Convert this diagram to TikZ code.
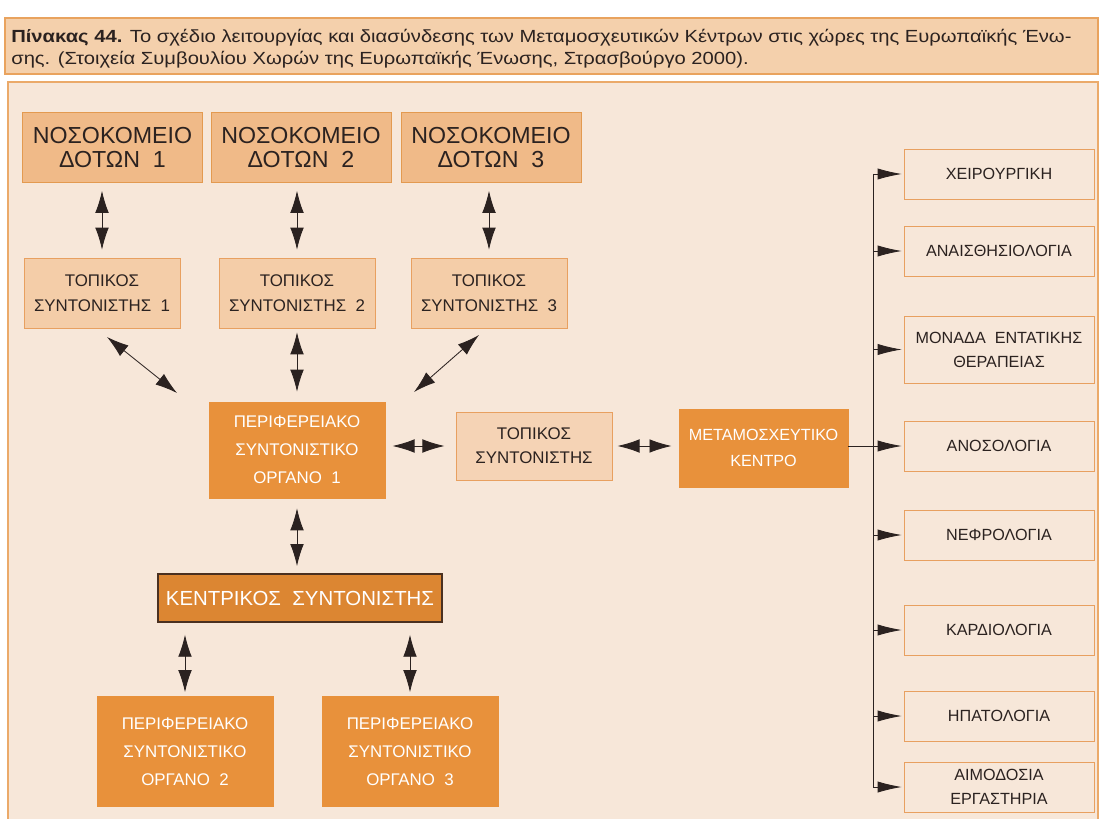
\documentclass[tikz,border=0pt]{standalone}
\usepackage{fontspec}
\setmainfont{Liberation Sans}
\newfontfamily\capfont[FakeStretch=1.15]{Liberation Sans}
\usetikzlibrary{arrows.meta,positioning,calc}
\definecolor{ink}{HTML}{2B2220}
\definecolor{capfill}{HTML}{F4D0AC}
\definecolor{capdraw}{HTML}{E9A35E}
\definecolor{panelfill}{HTML}{F7E7D9}
\definecolor{paneldraw}{HTML}{EBAA6A}
\definecolor{hospfill}{HTML}{F0BA88}
\definecolor{hospdraw}{HTML}{E39A50}
\definecolor{locfill}{HTML}{F4CDA8}
\definecolor{locdraw}{HTML}{E8A060}
\definecolor{tsfill}{HTML}{F5D3B5}
\definecolor{darkfill}{HTML}{E8913B}
\definecolor{ksfill}{HTML}{DC8632}
\definecolor{ksdraw}{HTML}{4A3020}
\tikzset{
  hosp/.style={draw=hospdraw, fill=hospfill, text=ink, inner sep=0pt, align=center,
    minimum width=4.5cm, minimum height=1.75cm, font=\fontsize{16.5}{17}\selectfont},
  loc/.style={draw=locdraw, fill=locfill, text=ink, inner sep=0pt, align=center,
    minimum width=3.9cm, minimum height=1.75cm, font=\fontsize{12}{18}\selectfont},
  organ/.style={draw=darkfill, fill=darkfill, text=white, inner sep=0pt, align=center,
    minimum width=4.4cm, minimum height=2.4cm, font=\fontsize{12}{20}\selectfont},
  dept/.style={draw=locdraw, fill=panelfill, text=ink, inner sep=0pt, align=center,
    minimum width=4.75cm, minimum height=1.25cm, font=\fontsize{11.5}{17}\selectfont},
  dbl/.style={{Latex[length=5.5mm,width=3.4mm]}-{Latex[length=5.5mm,width=3.4mm]}, line width=0.6pt, ink},
  feed/.style={-{Latex[length=6mm,width=2.8mm]}, line width=0.6pt, ink},
}
\begin{document}
\begin{tikzpicture}[x=0.025cm, y=-0.025cm]
  \useasboundingbox[fill=white] (0,0) rectangle (1103,819);
  % caption
  \draw[capdraw, fill=capfill, line width=1pt] (5,18) rectangle (1098,74);
  \node[anchor=base west, inner sep=0pt, align=left, text=ink,
    font=\capfont\fontsize{12.5}{15.6}\selectfont] (cap) at (11,64.5)
    {\textbf{Πίνακας 44.} Το σχέδιο λειτουργίας και διασύνδεσης των Μεταμοσχευτικών Κέντρων στις χώρες της Ευρωπαϊκής Ένω-\\
     σης. (Στοιχεία Συμβουλίου Χωρών της Ευρωπαϊκής Ένωσης, Στρασβούργο 2000).};
  % panel
  \draw[paneldraw, fill=panelfill, line width=1pt] (8,82) rectangle (1098,830);

  % hospitals and local coordinators
  \node[hosp] (h1) at (112.5,147.5) {ΝΟΣΟΚΟΜΕΙΟ\\ΔΟΤΩΝ\ \ 1};
  \node[hosp] (h2) at (301,147.5) {ΝΟΣΟΚΟΜΕΙΟ\\ΔΟΤΩΝ\ \ 2};
  \node[hosp] (h3) at (491,147.5) {ΝΟΣΟΚΟΜΕΙΟ\\ΔΟΤΩΝ\ \ 3};
  \node[loc] (l1) at (102,293) {ΤΟΠΙΚΟΣ\\ΣΥΝΤΟΝΙΣΤΗΣ\ \ 1};
  \node[loc] (l2) at (297,293) {ΤΟΠΙΚΟΣ\\ΣΥΝΤΟΝΙΣΤΗΣ\ \ 2};
  \node[loc] (l3) at (489,293) {ΤΟΠΙΚΟΣ\\ΣΥΝΤΟΝΙΣΤΗΣ\ \ 3};

  % regional organs
  \node[organ] (o1) at (297,450) {ΠΕΡΙΦΕΡΕΙΑΚΟ\\ΣΥΝΤΟΝΙΣΤΙΚΟ\\ΟΡΓΑΝΟ\ \ 1};
  \node[organ, minimum height=2.75cm] (o2) at (185,751.5) {ΠΕΡΙΦΕΡΕΙΑΚΟ\\ΣΥΝΤΟΝΙΣΤΙΚΟ\\ΟΡΓΑΝΟ\ \ 2};
  \node[organ, minimum height=2.75cm] (o3) at (410,751.5) {ΠΕΡΙΦΕΡΕΙΑΚΟ\\ΣΥΝΤΟΝΙΣΤΙΚΟ\\ΟΡΓΑΝΟ\ \ 3};
  \node[draw=ksdraw, fill=ksfill, text=white, line width=1pt, inner sep=0pt,
    minimum width=7.1cm, minimum height=1.2cm, font=\fontsize{14.5}{16}\selectfont]
    (ks) at (300,598) {ΚΕΝΤΡΙΚΟΣ\ \ ΣΥΝΤΟΝΙΣΤΗΣ};
  \node[loc, fill=tsfill, minimum height=1.7cm, font=\fontsize{12}{17}\selectfont]
    (ts) at (534,446) {ΤΟΠΙΚΟΣ\\ΣΥΝΤΟΝΙΣΤΗΣ};
  \node[organ, minimum width=4.225cm, minimum height=1.95cm, font=\fontsize{11.5}{19}\selectfont]
    (mk) at (763.5,448) {ΜΕΤΑΜΟΣΧΕΥΤΙΚΟ\\ΚΕΝΤΡΟ};

  % departments
  \node[dept] (d1) at (999,174) {ΧΕΙΡΟΥΡΓΙΚΗ};
  \node[dept] (d2) at (999,251) {ΑΝΑΙΣΘΗΣΙΟΛΟΓΙΑ};
  \node[dept, minimum height=1.675cm] (d3) at (999,349.5) {ΜΟΝΑΔΑ\ \ ΕΝΤΑΤΙΚΗΣ\\ΘΕΡΑΠΕΙΑΣ};
  \node[dept] (d4) at (999,446) {ΑΝΟΣΟΛΟΓΙΑ};
  \node[dept] (d5) at (999,535) {ΝΕΦΡΟΛΟΓΙΑ};
  \node[dept] (d6) at (999,630) {ΚΑΡΔΙΟΛΟΓΙΑ};
  \node[dept] (d7) at (999,716) {ΗΠΑΤΟΛΟΓΙΑ};
  \node[dept] (d8) at (999,787) {ΑΙΜΟΔΟΣΙΑ\\ΕΡΓΑΣΤΗΡΙΑ};

  % vertical links hospital - coordinator
  \foreach \i in {1,2,3}
    \draw[dbl, shorten <=0.2cm, shorten >=0.2cm] (h\i.south -| l\i.north) -- (l\i.north);

  % coordinators to regional organ 1
  \coordinate (a1) at (107,337);
  \coordinate (b1) at (177,393);
  \coordinate (a3) at (479,335);
  \coordinate (b3) at (414,392);
  \draw[dbl] (a1) -- (b1);
  \draw[dbl] (a3) -- (b3);
  \draw[dbl, shorten <=0.1cm, shorten >=0.25cm] (l2.south) -- (o1.north);

  % horizontal chain
  \draw[dbl, shorten <=0.18cm, shorten >=0.28cm] (o1.east |- ts.west) -- (ts.west);
  \draw[dbl, shorten <=0.13cm, shorten >=0.18cm] (ts.east) -- (mk.west |- ts.east);

  % central coordinator
  \draw[dbl, shorten <=0.25cm, shorten >=0.18cm] (o1.south) -- (o1.south |- ks.north);
  \draw[dbl, shorten <=0.3cm, shorten >=0.1cm] (ks.south -| o2.north) -- (o2.north);
  \draw[dbl, shorten <=0.3cm, shorten >=0.1cm] (ks.south -| o3.north) -- (o3.north);

  % distribution bus
  \coordinate (bus) at (873,446);
  \draw[line width=0.6pt, ink] (mk.east |- bus) -- (bus);
  \draw[line width=0.6pt, ink] (bus |- d1.west) -- (bus |- d8.west);
  \foreach \d in {d1,d2,d3,d4,d5,d6,d7,d8}
    \draw[feed, shorten >=0.05cm] (bus |- \d.west) -- (\d.west);
\end{tikzpicture}
\end{document}
